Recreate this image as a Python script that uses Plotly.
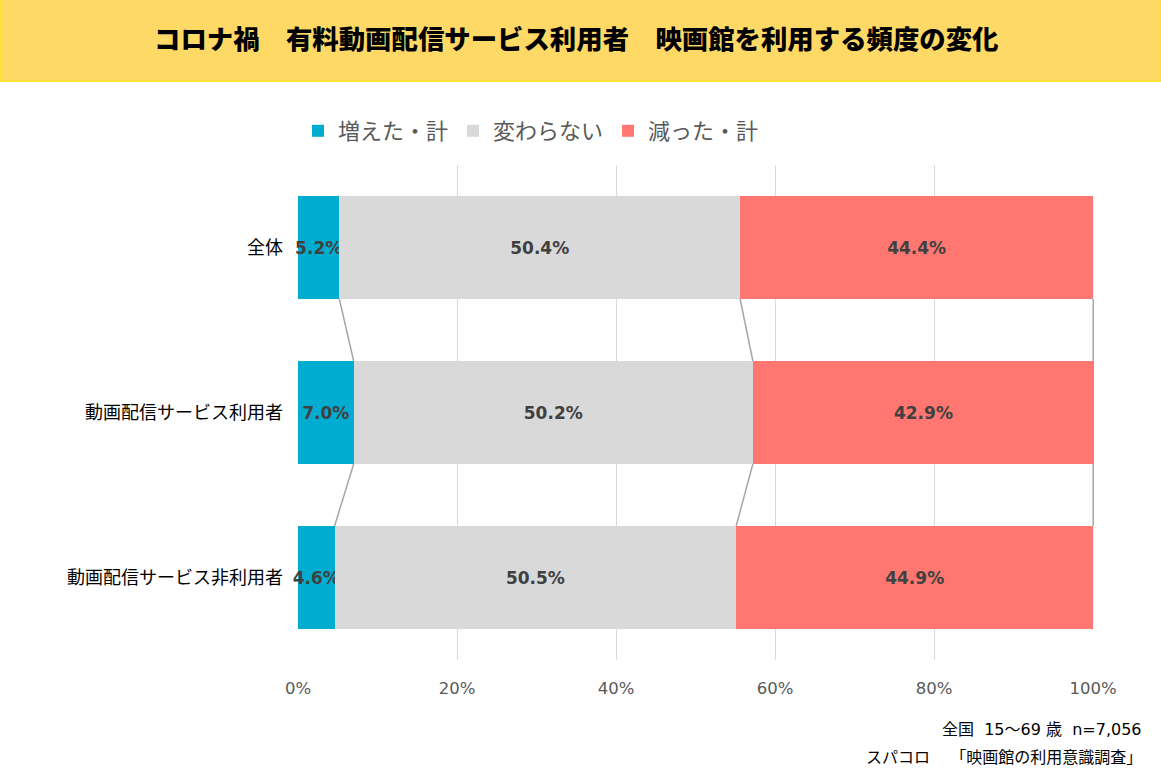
import plotly.graph_objects as go

categories = ["全体", "動画配信サービス利用者", "動画配信サービス非利用者"]
increased = [5.2, 7.0, 4.6]
unchanged = [50.4, 50.2, 50.5]
decreased = [44.4, 42.9, 44.9]
x_ticks = [0, 20, 40, 60, 80, 100]

JP = "Noto Sans CJK JP"
NUM = "DejaVu Sans"
BAR_W = 0.624

series = [
    ("増えた・計", increased, "#00ADD0"),
    ("変わらない", unchanged, "#D9D9D9"),
    ("減った・計", decreased, "#FF7770"),
]

ypos = list(range(len(categories)))
fig = go.Figure()
for name, vals, color in series:
    fig.add_trace(go.Bar(
        name=name,
        x=vals,
        y=ypos,
        orientation="h",
        width=BAR_W,
        marker=dict(color=color, line=dict(width=0)),
        text=[f"{v:.1f}%" for v in vals],
        textposition="inside",
        insidetextanchor="middle",
        textangle=0,
        textfont=dict(family=NUM, size=17, color="#404040", weight="bold"),
        cliponaxis=False,
    ))

# connector lines between cumulative boundaries
cum1 = increased
cum2 = [a + b for a, b in zip(increased, unchanged)]
cum3 = [min(a + b + c, 100) for a, b, c in zip(increased, unchanged, decreased)]
for bound in (cum1, cum2, cum3):
    for i in range(len(categories) - 1):
        fig.add_trace(go.Scatter(
            x=[bound[i], bound[i + 1]],
            y=[i + BAR_W / 2, i + 1 - BAR_W / 2],
            mode="lines",
            line=dict(color="#A6A6A6", width=1.5),
            showlegend=False,
            hoverinfo="skip",
            cliponaxis=False,
        ))

PW, PH = 796, 495  # plot area size in px

# title band
fig.add_shape(type="rect", xref="paper", yref="paper",
              x0=-298 / PW, x1=(1161 - 298) / PW,
              y0=1 + 84 / PH, y1=1 + 168 / PH,
              fillcolor="#FFD966", line=dict(color="#FFE033", width=2), layer="below")
fig.add_annotation(text="コロナ禍　有料動画配信サービス利用者　映画館を利用する頻度の変化",
                   xref="paper", yref="paper", x=(576 - 298) / PW, y=1 + 127 / PH,
                   xanchor="center", yanchor="middle", showarrow=False,
                   font=dict(family=JP, size=26.4, color="#000000", weight=900))

foot_font = dict(family=f"{NUM}, {JP}", size=16, color="#000000")
fig.add_annotation(text="全国\u00a0\u00a015～69\u00a0歳\u00a0\u00a0n=7,056", xref="paper", yref="paper",
                   x=(1144 - 298) / PW, y=-(729 - 660) / PH, xanchor="right", yanchor="middle",
                   showarrow=False, font=foot_font)
fig.add_annotation(text="スパコロ\u00a0\u00a0\u00a0\u00a0「映画館の利用意識調査」", xref="paper", yref="paper",
                   x=(1144 - 298) / PW, y=-(757 - 660) / PH, xanchor="right", yanchor="middle",
                   showarrow=False, font=foot_font)

fig.update_layout(
    barmode="stack",
    width=1161,
    height=780,
    margin=dict(l=298, r=67, t=165, b=120),
    paper_bgcolor="white",
    plot_bgcolor="white",
    uniformtext=dict(minsize=17, mode="show"),
    legend=dict(orientation="h", x=0, y=1 + 34 / PH, xanchor="left", yanchor="middle",
                font=dict(family=JP, size=22, color="#595959"), traceorder="normal"),
    xaxis=dict(range=[0, 100.1], tickvals=x_ticks, ticktext=[f"{t}%" for t in x_ticks],
               showgrid=True, gridcolor="#D9D9D9", gridwidth=1, zeroline=False,
               tickfont=dict(family=NUM, size=16.5, color="#595959"), ticks="", ticklabelstandoff=16),
    yaxis=dict(range=[2.5, -0.5], tickvals=ypos, ticktext=categories, showgrid=False,
               zeroline=False, tickfont=dict(family=JP, size=18, color="#000000"), ticks="",
               ticklabelstandoff=14),
    showlegend=True,
)

fig.write_html("out.html", config={"displayModeBar": False},
               post_script="document.body.style.margin='0';")
